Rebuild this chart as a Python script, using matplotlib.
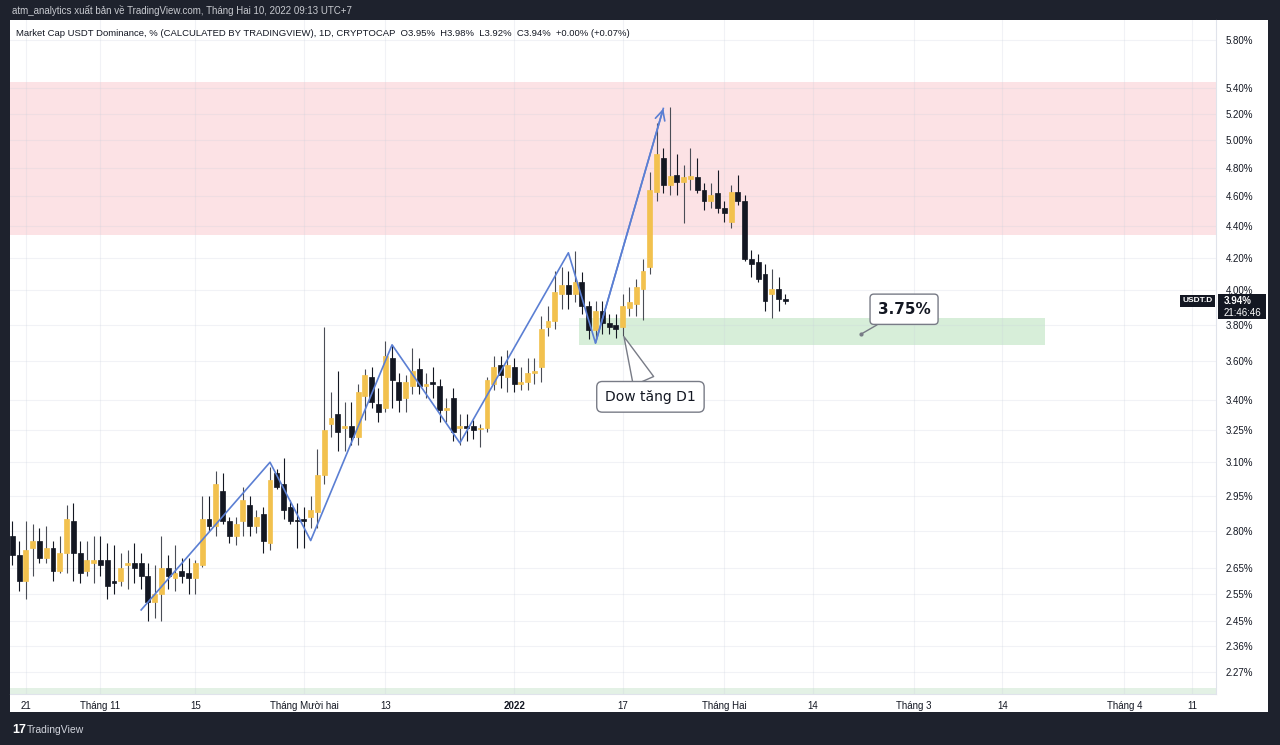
import numpy as np
import pandas as pd
import matplotlib
matplotlib.use("Agg")
import matplotlib.pyplot as plt
import matplotlib.dates as mdates
from matplotlib.patches import Rectangle
from matplotlib.ticker import NullLocator

# daily USDT.D candles, 19 Oct 2021 .. 10 Feb 2022 (values in %)
start_date = "2021-10-19"
opens = [
    2.78, 2.70, 2.60, 2.73, 2.76, 2.69, 2.73, 2.64, 2.71, 2.84,
    2.71, 2.64, 2.67, 2.68, 2.68, 2.60, 2.60, 2.66, 2.67, 2.67,
    2.62, 2.52, 2.55, 2.65, 2.61, 2.64, 2.63, 2.61, 2.66, 2.85,
    2.82, 2.97, 2.84, 2.78, 2.84, 2.91, 2.82, 2.87, 2.75, 3.05,
    3.00, 2.90, 2.845, 2.85, 2.86, 2.88, 3.04, 3.28, 3.33, 3.26,
    3.27, 3.22, 3.42, 3.52, 3.38, 3.36, 3.62, 3.49, 3.41, 3.47,
    3.56, 3.47, 3.49, 3.47, 3.35, 3.41, 3.26, 3.27, 3.27, 3.255,
    3.26, 3.48, 3.58, 3.52, 3.57, 3.48, 3.49, 3.54, 3.57, 3.79,
    3.82, 3.98, 4.03, 3.98, 4.05, 3.91, 3.77, 3.88, 3.81, 3.80,
    3.79, 3.90, 3.92, 4.01, 4.14, 4.63, 4.87, 4.68, 4.75, 4.70,
    4.72, 4.73, 4.64, 4.57, 4.62, 4.52, 4.43, 4.63, 4.57, 4.19,
    4.17, 4.10, 3.98, 4.01, 3.95]
highs = [
    2.84, 2.76, 2.84, 2.83, 2.81, 2.82, 2.76, 2.78, 2.91, 2.92,
    2.76, 2.76, 2.78, 2.78, 2.75, 2.74, 2.71, 2.72, 2.75, 2.71,
    2.67, 2.66, 2.78, 2.70, 2.74, 2.69, 2.69, 2.68, 2.95, 2.95,
    3.06, 3.05, 2.86, 2.86, 2.99, 2.95, 2.89, 2.90, 3.08, 3.07,
    3.12, 2.93, 2.92, 2.90, 2.95, 3.16, 3.79, 3.44, 3.55, 3.39,
    3.39, 3.48, 3.56, 3.57, 3.46, 3.71, 3.69, 3.54, 3.53, 3.67,
    3.62, 3.54, 3.57, 3.51, 3.41, 3.46, 3.33, 3.33, 3.30, 3.28,
    3.52, 3.63, 3.63, 3.66, 3.62, 3.57, 3.62, 3.62, 3.85, 3.91,
    4.12, 4.14, 4.12, 4.24, 4.11, 3.94, 3.94, 3.94, 3.86, 3.86,
    3.98, 4.02, 4.07, 4.19, 4.77, 5.13, 4.94, 5.25, 4.90, 4.82,
    4.94, 4.87, 4.69, 4.69, 4.78, 4.57, 4.68, 4.75, 4.61, 4.25,
    4.22, 4.16, 4.13, 4.08, 3.98]
lows = [
    2.66, 2.56, 2.53, 2.62, 2.67, 2.67, 2.60, 2.63, 2.63, 2.60,
    2.59, 2.62, 2.59, 2.62, 2.53, 2.55, 2.58, 2.57, 2.59, 2.57,
    2.45, 2.46, 2.45, 2.57, 2.56, 2.59, 2.55, 2.55, 2.655, 2.80,
    2.78, 2.83, 2.75, 2.74, 2.78, 2.78, 2.79, 2.71, 2.72, 2.98,
    2.85, 2.83, 2.73, 2.73, 2.81, 2.81, 3.00, 3.22, 3.15, 3.15,
    3.18, 3.18, 3.30, 3.36, 3.29, 3.34, 3.36, 3.34, 3.34, 3.43,
    3.43, 3.41, 3.41, 3.29, 3.29, 3.20, 3.18, 3.20, 3.21, 3.17,
    3.24, 3.45, 3.46, 3.44, 3.44, 3.45, 3.45, 3.48, 3.49, 3.74,
    3.78, 3.89, 3.89, 3.93, 3.86, 3.72, 3.72, 3.75, 3.75, 3.73,
    3.74, 3.85, 3.85, 3.83, 4.10, 4.57, 4.62, 4.61, 4.61, 4.42,
    4.64, 4.62, 4.51, 4.52, 4.49, 4.43, 4.39, 4.54, 4.18, 4.08,
    4.05, 3.88, 3.84, 3.88, 3.92]
closes = [
    2.70, 2.60, 2.72, 2.76, 2.69, 2.73, 2.64, 2.71, 2.85, 2.71,
    2.63, 2.68, 2.68, 2.66, 2.58, 2.59, 2.65, 2.67, 2.65, 2.62,
    2.52, 2.55, 2.65, 2.62, 2.63, 2.62, 2.61, 2.67, 2.85, 2.82,
    3.00, 2.84, 2.78, 2.83, 2.93, 2.82, 2.86, 2.76, 3.02, 2.99,
    2.89, 2.84, 2.84, 2.84, 2.89, 3.04, 3.25, 3.31, 3.24, 3.27,
    3.22, 3.44, 3.53, 3.39, 3.34, 3.63, 3.50, 3.40, 3.49, 3.55,
    3.47, 3.48, 3.48, 3.35, 3.36, 3.24, 3.27, 3.26, 3.25, 3.26,
    3.50, 3.57, 3.53, 3.58, 3.48, 3.49, 3.54, 3.55, 3.78, 3.82,
    3.99, 4.03, 3.98, 4.05, 3.91, 3.77, 3.88, 3.81, 3.79, 3.78,
    3.91, 3.93, 4.02, 4.12, 4.64, 4.90, 4.68, 4.74, 4.70, 4.73,
    4.74, 4.64, 4.57, 4.61, 4.52, 4.49, 4.63, 4.57, 4.19, 4.16,
    4.07, 3.94, 4.01, 3.95, 3.94]

# Dow zigzag drawn on the chart
zz_dates = ["2021-11-07", "2021-11-26", "2021-12-02", "2021-12-14",
            "2021-12-24", "2022-01-09", "2022-01-13", "2022-01-23"]
zz_values = [2.49, 3.10, 2.76, 3.69, 3.19, 4.23, 3.70, 5.24]

# zones
red_zone = (4.34, 5.45)
green_zone = (3.69, 3.84)
green_zone_dates = ("2022-01-10 12:00", "2022-03-20 08:00")

price_ticks = [5.80, 5.40, 5.20, 5.00, 4.80, 4.60, 4.40, 4.20, 4.00, 3.80, 3.60,
               3.40, 3.25, 3.10, 2.95, 2.80, 2.65, 2.55, 2.45, 2.36, 2.27]
time_ticks = ["2021-10-21", "2021-11-01", "2021-11-15", "2021-12-01", "2021-12-13",
              "2022-01-01", "2022-01-17", "2022-02-01", "2022-02-14", "2022-03-01",
              "2022-03-14", "2022-04-01", "2022-04-11"]
time_labels = ["21", "Tháng 11", "15", "Tháng Mười hai", "13", "2022", "17",
               "Tháng Hai", "14", "Tháng 3", "14", "Tháng 4", "11"]

last_price = 3.94
target_level = 3.75

plt.rcParams["font.family"] = ["Liberation Sans", "DejaVu Sans"]

UP = "#f2c14e"
DOWN = "#131722"
WICK_UP = "#4a4d56"
DARK = "#1e222d"
BLUE = "#5b7fd3"
GREY = "#787b86"

dates = pd.date_range(start_date, periods=len(opens), freq="D")
x = mdates.date2num(dates)
o, h, l, c = (np.array(a) for a in (opens, highs, lows, closes))
up = c >= o

W, H = 1280, 745
fig = plt.figure(figsize=(W / 100, H / 100), dpi=100, facecolor=DARK)
fig.patches.append(Rectangle((10 / W, 1 - 712 / H), 1258 / W, 692 / H,
                             transform=fig.transFigure, fc="white", ec="none", zorder=-5))
ax = fig.add_axes([10 / W, 1 - 694 / H, 1206 / W, 674 / H])
ax.set_zorder(1)
ax.set_yscale("log")
ax.set_ylim(2.198, 5.975)
ax.set_xlim(x[0] - 0.34, x[0] + 177.5)

# zones
ax.axhspan(*red_zone, color="#fce2e5", zorder=0.2, lw=0)
g0, g1 = mdates.date2num(pd.to_datetime(list(green_zone_dates)))
ax.fill_between([g0, g1], green_zone[0], green_zone[1], color="#d7eed9", zorder=0.3, lw=0)
ax.axhspan(2.198, 2.218, color="#e3f1e5", zorder=0.2, lw=0)

# candles
ax.vlines(x, l, h, colors=np.where(up, WICK_UP, DOWN), lw=0.8, zorder=2)
body_col = np.where(up, UP, DOWN)
ax.bar(x, np.abs(c - o), bottom=np.minimum(o, c), width=0.72,
       color=body_col, edgecolor=body_col, lw=0.5, zorder=3)

# zigzag with arrow
zx = mdates.date2num(pd.to_datetime(zz_dates))
ax.plot(zx, zz_values, color=BLUE, lw=1.2, zorder=4)
ax.annotate("", xy=(zx[-1], zz_values[-1]), xytext=(zx[-2], zz_values[-2]),
            arrowprops=dict(arrowstyle="->,head_length=0.7,head_width=0.35",
                            color=BLUE, lw=1.2, shrinkA=0, shrinkB=0), zorder=4)

# callouts
p1 = mdates.date2num(pd.Timestamp(start_date) + pd.Timedelta(days=125.2))
t1 = mdates.date2num(pd.Timestamp(start_date) + pd.Timedelta(days=131.5))
ax.annotate(f"{target_level:.2f}%", xy=(p1, target_level), xytext=(t1, 3.89),
            ha="center", va="center", fontsize=11, fontweight="bold", color=DOWN,
            family="DejaVu Sans",
            bbox=dict(boxstyle="round,pad=0.5,rounding_size=0.25", fc="white", ec=GREY, lw=1),
            arrowprops=dict(arrowstyle="-", color=GREY, lw=1, shrinkA=0, shrinkB=0), zorder=6)
ax.plot([p1], [target_level], marker="o", ms=2, color=GREY, zorder=6)

p2 = mdates.date2num(pd.Timestamp(start_date) + pd.Timedelta(days=90.2))
t2 = mdates.date2num(pd.Timestamp(start_date) + pd.Timedelta(days=94.1))
ax.annotate("Dow tăng D1", xy=(p2, 3.735), xytext=(t2, 3.416),
            ha="center", va="center", fontsize=10, color=DOWN, family="DejaVu Sans",
            bbox=dict(boxstyle="round,pad=0.6,rounding_size=0.4", fc="white", ec=GREY, lw=1),
            arrowprops=dict(arrowstyle="wedge,tail_width=1.6,shrink_factor=0.5",
                            fc="white", ec=GREY, lw=1, shrinkA=0, shrinkB=0), zorder=6)

# axes styling
ax.yaxis.tick_right()
ax.set_yticks(price_ticks)
ax.set_yticklabels([f"{v:.2f}%" for v in price_ticks])
ax.yaxis.set_minor_locator(NullLocator())
ax.set_xticks(mdates.date2num(pd.to_datetime(time_ticks)))
ax.set_xticklabels(time_labels)
ax.tick_params(axis="y", length=0, pad=7, labelsize=7, labelcolor="#131722")
ax.tick_params(axis="x", length=0, pad=5, labelsize=7, labelcolor="#131722")
for lab in ax.get_xticklabels():
    if lab.get_text() == "2022":
        lab.set_fontweight("bold")
ax.grid(True, color="#c9cfdc", alpha=0.25, lw=0.8)
ax.set_axisbelow(True)
for s in ("top", "left"):
    ax.spines[s].set_visible(False)
for s in ("right", "bottom"):
    ax.spines[s].set_color("#e0e3eb")

# series name inside chart
ax.text(16 / W, 1 - 33 / H,
        "Market Cap USDT Dominance, % (CALCULATED BY TRADINGVIEW), 1D, CRYPTOCAP  "
        "O3.95%  H3.98%  L3.92%  C3.94%  +0.00% (+0.07%)",
        transform=fig.transFigure, fontsize=6.8, color="#131722", va="center")

# last price labels
ax.text(0.997, last_price, "USDT.D", transform=ax.get_yaxis_transform(),
        ha="right", va="center", fontsize=6, fontweight="bold", color="white",
        bbox=dict(boxstyle="square,pad=0.3", fc="#131722", ec="none"), zorder=7)
fig.patches.append(Rectangle((1218 / W, 1 - 319 / H), 48 / W, 25 / H,
                             transform=fig.transFigure, fc="#131722", ec="none", zorder=5))
fig.text(1224 / W, 1 - 301 / H, f"{last_price:.2f}%", fontsize=7, fontweight="bold",
         color="white", va="center", zorder=6)
fig.text(1224 / W, 1 - 313 / H, "21:46:46", fontsize=7, color="white", va="center", zorder=6)

# header / footer
fig.text(12 / W, 1 - 10 / H,
         "atm_analytics xuất bản về TradingView.com, Tháng Hai 10, 2022 09:13 UTC+7",
         fontsize=7, color="#c8cad0", va="center")
fig.text(12 / W, 1 - 730 / H, "17", fontsize=9, fontweight="bold", color="white", va="center")
fig.text(27 / W, 1 - 730 / H, "TradingView", fontsize=7.5, color="#d1d4dc", va="center")

fig.savefig("out.png", dpi=100, facecolor=DARK)
